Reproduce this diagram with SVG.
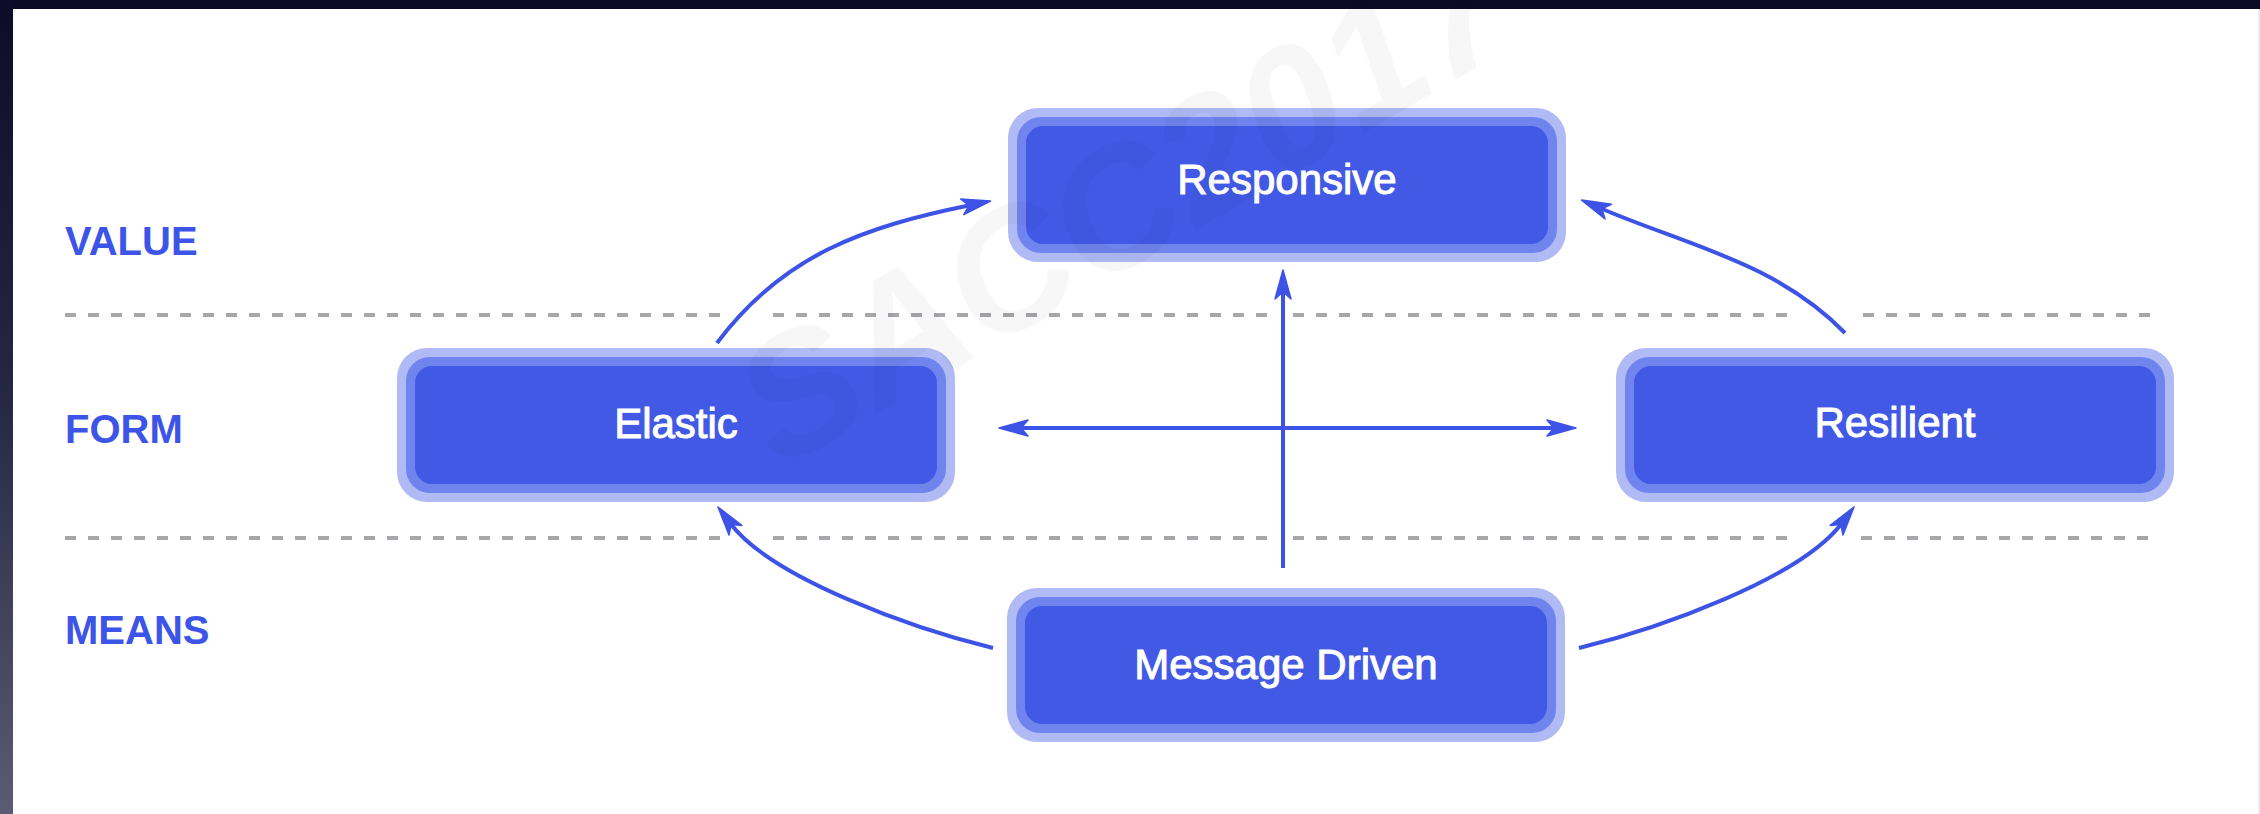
<svg xmlns="http://www.w3.org/2000/svg" width="2260" height="814" viewBox="0 0 2260 814">
  <defs>
    <style>
      .halo { fill: #b0baf5; }
      .ring { fill: #7084ee; }
      .core { fill: #4259e6; }
      .title { font-family: "Liberation Sans", Arial, Helvetica, sans-serif; font-size: 42px; fill: #ffffff; stroke: #ffffff; stroke-width: 1; text-anchor: middle; }
      .row { font-family: "Liberation Sans", Arial, Helvetica, sans-serif; font-size: 40px; font-weight: bold; fill: #3d54e8; }
      .divider { stroke: #a6a6ab; stroke-width: 4; stroke-dasharray: 11 12; fill: none; }
      .link { stroke: #3d53e6; stroke-width: 4; fill: none; }
      .mark { font-family: "Liberation Sans", Arial, sans-serif; font-size: 170px; font-weight: bold; font-style: italic; fill: #000000; fill-opacity: 0.03; }
    </style>
    <linearGradient id="edgeShade" x1="0" y1="0" x2="0" y2="1">
      <stop offset="0" stop-color="#0c0c2a"/>
      <stop offset="0.5" stop-color="#272842"/>
      <stop offset="1" stop-color="#5b5c73"/>
    </linearGradient>
    <marker id="tip" markerUnits="userSpaceOnUse" markerWidth="40" markerHeight="24" viewBox="-12 -12 40 24" refX="0" refY="0" orient="auto-start-reverse">
      <path d="M20,0 L-9,-8 L-2,0 L-9,8 Z" fill="#3d53e6" stroke="#3d53e6" stroke-width="1.5" stroke-linejoin="round"/>
    </marker>
  </defs>

  <!-- page and dark frame -->
  <rect x="0" y="0" width="2260" height="814" fill="#ffffff"/>
  <rect x="0" y="0" width="2260" height="9" fill="#0b0b26"/>
  <rect x="0" y="0" width="13" height="814" fill="url(#edgeShade)"/>
  <rect x="2258" y="9" width="2" height="805" fill="#ececf0"/>

  <!-- row labels and dividers -->
  <g id="rows">
    <text class="row" x="65" y="255">VALUE</text>
    <text class="row" x="65" y="443">FORM</text>
    <text class="row" x="65" y="644">MEANS</text>
    <path class="divider" d="M65,315 H722 M773,315 H1269 M1293,315 H1788 M1863,315 H2151"/>
    <path class="divider" d="M65,538 H722 M773,538 H1269 M1293,538 H1788 M1861,538 H2151"/>
  </g>

  <!-- nodes -->
  <g id="node-responsive">
    <rect class="halo" x="1008" y="108" width="558" height="154" rx="30"/>
    <rect class="ring" x="1017" y="117" width="540" height="136" rx="24"/>
    <rect class="core" x="1026" y="126" width="522" height="118" rx="17"/>
    <text class="title" x="1287" y="194">Responsive</text>
  </g>
  <g id="node-elastic">
    <rect class="halo" x="397" y="348" width="558" height="154" rx="30"/>
    <rect class="ring" x="406" y="357" width="540" height="136" rx="24"/>
    <rect class="core" x="415" y="366" width="522" height="118" rx="17"/>
    <text class="title" x="676" y="438">Elastic</text>
  </g>
  <g id="node-resilient">
    <rect class="halo" x="1616" y="348" width="558" height="154" rx="30"/>
    <rect class="ring" x="1625" y="357" width="540" height="136" rx="24"/>
    <rect class="core" x="1634" y="366" width="522" height="118" rx="17"/>
    <text class="title" x="1895" y="437">Resilient</text>
  </g>
  <g id="node-message-driven">
    <rect class="halo" x="1007" y="588" width="558" height="154" rx="30"/>
    <rect class="ring" x="1016" y="597" width="540" height="136" rx="24"/>
    <rect class="core" x="1025" y="606" width="522" height="118" rx="17"/>
    <text class="title" x="1286" y="679">Message Driven</text>
  </g>

  <!-- connectors -->
  <g id="connectors">
    <path class="link" d="M717,343 C783,255 863,227 971,205" marker-end="url(#tip)"/>
    <path class="link" d="M1845,333 C1776,262 1683,244 1600,208" marker-end="url(#tip)"/>
    <path class="link" d="M993,648 C915,629 772,579 730,523" marker-end="url(#tip)"/>
    <path class="link" d="M1579,648 C1657,629 1800,579 1842,523" marker-end="url(#tip)"/>
    <path class="link" d="M1019,428 L1556,428" marker-start="url(#tip)" marker-end="url(#tip)"/>
    <path class="link" d="M1283,568 L1283,290" marker-end="url(#tip)"/>
  </g>

  <!-- faint watermark -->
  <text class="mark" x="780" y="470" transform="rotate(-30 780 470)">SACC2017</text>
</svg>
